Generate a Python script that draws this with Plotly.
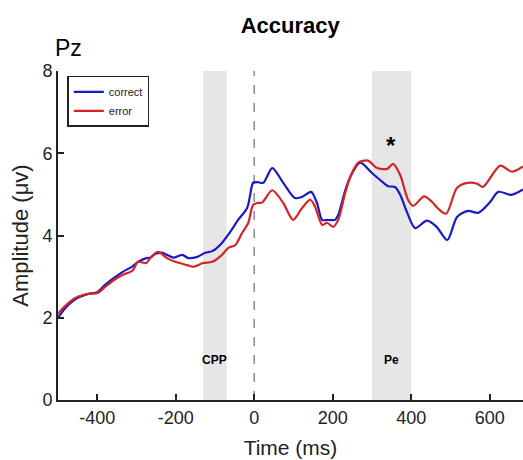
import plotly.graph_objects as go

# ---- data ----
t_correct = [-500, -480, -456, -423, -400, -380, -360, -336, -310, -296, -275, -265, -252, -234, -220,
             -206, -183, -168, -145, -125, -107, -87, -61, -41, -18, -10, -3, 8, 23, 46, 74, 104, 122,
             145, 160, 173, 186, 206, 214, 232, 245, 270, 300, 321, 341, 359, 372, 390, 410, 440,
             465, 492, 517, 545, 571, 600, 622, 655, 685]
v_correct = [2.0, 2.25, 2.45, 2.58, 2.62, 2.8, 2.95, 3.11, 3.25, 3.36, 3.45, 3.46, 3.55, 3.58, 3.52,
             3.46, 3.53, 3.45, 3.48, 3.58, 3.62, 3.77, 4.09, 4.38, 4.67, 5.0, 5.28, 5.3, 5.28, 5.64, 5.28,
             4.91, 4.94, 5.06, 4.79, 4.38, 4.38, 4.38, 4.5, 5.1, 5.43, 5.77, 5.52, 5.35, 5.2, 5.18,
             4.99, 4.55, 4.18, 4.36, 4.21, 3.89, 4.45, 4.6, 4.55, 4.8, 5.06, 4.99, 5.12]

t_error = [-500, -480, -456, -423, -400, -380, -360, -336, -310, -296, -275, -265, -245, -222, -201,
           -171, -155, -130, -107, -82, -66, -48, -31, -15, -3, 8, 20, 46, 74, 99, 122, 143, 155,
           173, 186, 201, 214, 232, 245, 265, 290, 313, 339, 354, 372, 392, 405, 433, 453, 469,
           489, 517, 543, 568, 583, 627, 657, 685]
v_error = [2.1, 2.3, 2.48, 2.58, 2.6, 2.75, 2.9, 3.04, 3.15, 3.36, 3.33, 3.45, 3.6, 3.45, 3.36,
           3.28, 3.24, 3.33, 3.36, 3.53, 3.70, 3.77, 4.06, 4.31, 4.74, 4.79, 4.8, 5.1, 4.79, 4.38,
           4.67, 4.87, 4.7, 4.26, 4.31, 4.21, 4.38, 5.04, 5.43, 5.77, 5.82, 5.64, 5.62, 5.74, 5.47,
           4.87, 4.72, 4.95, 4.82, 4.65, 4.53, 5.16, 5.28, 5.26, 5.18, 5.70, 5.55, 5.68]

windows = [(-130, -70), (300, 400)]
window_labels = ["CPP", "Pe"]
window_label_x = [-100, 350]
x_ticks = [-400, -200, 0, 200, 400, 600]
x_tick_text = ["-400", "-200", "0", "200", "400", "600"]
y_ticks = [0, 2, 4, 6, 8]

FONT = "Liberation Sans, Arial, Helvetica, sans-serif"

fig = go.Figure()

for (a, b) in windows:
    fig.add_vrect(x0=a, x1=b, fillcolor="#e6e6e6", line_width=0, layer="below")

fig.add_shape(type="line", x0=0, x1=0, y0=0, y1=8, xref="x", yref="y",
              line=dict(color="#8a8a8a", width=1.5, dash="dash"), layer="below")

fig.add_trace(go.Scatter(x=t_correct, y=v_correct, mode="lines", name="correct",
                         line=dict(color="#1a1ac4", width=2.2, shape="spline", smoothing=0.8)))
fig.add_trace(go.Scatter(x=t_error, y=v_error, mode="lines", name="error",
                         line=dict(color="#d42424", width=2.2, shape="spline", smoothing=0.8)))

for lab, xl in zip(window_labels, window_label_x):
    fig.add_annotation(x=xl, y=0.97, text=f"<b>{lab}</b>", showarrow=False,
                       font=dict(size=12, color="black", family=FONT))

fig.add_annotation(x=349, y=6.2, text="<b>*</b>", showarrow=False,
                   font=dict(size=24, color="black", family=FONT))

fig.add_annotation(x=-0.01, y=1.0, xref="paper", yref="paper", text="Pz", showarrow=False,
                   xanchor="left", yanchor="bottom", yshift=8,
                   font=dict(size=23, color="black", family=FONT))

fig.update_layout(
    width=523, height=460,
    margin=dict(l=58, r=0, t=71, b=60),
    paper_bgcolor="white", plot_bgcolor="white",
    title=dict(text="<b>Accuracy</b>", x=0.555, xanchor="center", y=0.945, yanchor="middle",
               font=dict(size=22, color="black", family=FONT)),
    font=dict(family=FONT, color="#222"),
    legend=dict(x=0.02, y=0.985, xanchor="left", yanchor="top",
                bgcolor="white", bordercolor="#222", borderwidth=1.5,
                font=dict(size=11, color="#222", family=FONT),
                tracegroupgap=0, itemwidth=30),
    showlegend=True,
)

fig.update_xaxes(range=[-500, 685], tickvals=x_ticks, ticktext=x_tick_text, ticks="inside",
                 ticklen=6, tickwidth=1.5,
                 tickcolor="#222", showline=True, linecolor="#222", linewidth=2, showgrid=False,
                 zeroline=False, tickfont=dict(size=18, color="#222"),
                 title=dict(text="Time (ms)", font=dict(size=21, color="#222"), standoff=14))
fig.update_yaxes(range=[0, 8], tickvals=y_ticks, ticks="inside", ticklen=6, tickwidth=1.5,
                 tickcolor="#222", showline=True, linecolor="#222", linewidth=2, showgrid=False,
                 zeroline=False, tickfont=dict(size=18, color="#222"),
                 title=dict(text="Amplitude (μv)", font=dict(size=22, color="#222"), standoff=8))

fig.write_html("out.html")
